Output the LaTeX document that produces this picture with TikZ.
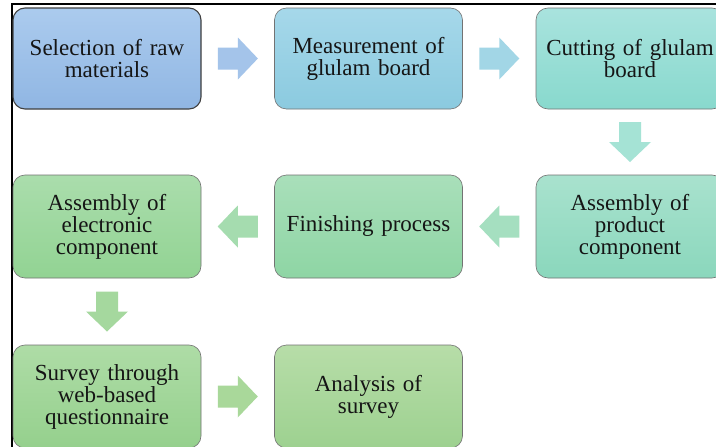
\documentclass[tikz,border=0pt]{standalone}
\usepackage{fontspec}
\usetikzlibrary{calc}
\setmainfont{Liberation Serif}
\definecolor{bA1}{HTML}{ABCBEE}\definecolor{bA2}{HTML}{90B6E3}
\definecolor{bB1}{HTML}{A6D8EA}\definecolor{bB2}{HTML}{8BCADF}
\definecolor{bC1}{HTML}{A9E3DE}\definecolor{bC2}{HTML}{88D9CD}
\definecolor{bF1}{HTML}{A9E2CE}\definecolor{bF2}{HTML}{8AD7BC}
\definecolor{bE1}{HTML}{A9DFBA}\definecolor{bE2}{HTML}{8ED5A4}
\definecolor{bD1}{HTML}{AADDAC}\definecolor{bD2}{HTML}{92D393}
\definecolor{bG1}{HTML}{AEDCA6}\definecolor{bG2}{HTML}{95D08D}
\definecolor{bH1}{HTML}{B7DDA8}\definecolor{bH2}{HTML}{9DD190}
\definecolor{aA}{HTML}{A4C4EA}\definecolor{aB}{HTML}{A2D6E6}
\definecolor{aC}{HTML}{A5E3D5}\definecolor{aD}{HTML}{A5DFC0}
\definecolor{aE}{HTML}{A5DCAF}\definecolor{aF}{HTML}{A5D89E}
\definecolor{aG}{HTML}{A9D89A}
\definecolor{txt}{HTML}{151515}
\tikzset{
  box/.style={draw=black!55, line width=0.6pt, rounded corners=12pt,
    minimum width=188pt, minimum height=101pt, inner sep=0pt,
    text width=180pt, align=center, text=txt,
    font=\fontsize{23}{22}\selectfont},
  sel/.style={draw=black!75, line width=1.1pt},
  blockarrow/.pic={\path[pic actions] (-20,-11)--(0,-11)--(0,-21)--(20,0)--(0,21)--(0,11)--(-20,11)--cycle;},
}
\begin{document}
\begin{tikzpicture}[x=1pt,y=-1pt]
\useasboundingbox (0,0) rectangle (716,447);
\clip (0,0) rectangle (716,447);
\fill[white] (0,0) rectangle (716,447);
\draw[line width=1.6pt] (12,449) -- (12,4) -- (718,4);
% row 1
\node[box, sel, top color=bA1, bottom color=bA2] (n1) at (107,58.5) {Selection of raw\\materials};
\node[box, top color=bB1, bottom color=bB2] (n2) at (368.5,58.5) {Measurement of\\glulam board};
\node[box, top color=bC1, bottom color=bC2] (n3) at (630,58.5) {Cutting of glulam\\board};
% row 2
\node[box, minimum height=103pt, top color=bD1, bottom color=bD2] (n4) at (107,226.5) {Assembly of\\electronic\\component};
\node[box, minimum height=103pt, top color=bE1, bottom color=bE2] (n5) at (368.5,226.5) {Finishing process};
\node[box, minimum height=103pt, top color=bF1, bottom color=bF2] (n6) at (630,226.5) {Assembly of\\product\\component};
% row 3
\node[box, minimum height=103pt, top color=bG1, bottom color=bG2] (n7) at (107,396.5) {Survey through\\web-based\\questionnaire};
\node[box, minimum height=103pt, top color=bH1, bottom color=bH2] (n8) at (368.5,396.5) {Analysis of\\survey};
% arrows
\pic[fill=aA] (a1) at ($(n1.east)!0.5!(n2.west)$) {blockarrow};
\pic[fill=aB] (a2) at ($(n2.east)!0.5!(n3.west)$) {blockarrow};
\pic[fill=aC, rotate=-90] (a3) at ($(n3.south)!0.5!(n6.north)$) {blockarrow};
\pic[fill=aD, rotate=180] (a4) at ($(n6.west)!0.5!(n5.east)$) {blockarrow};
\pic[fill=aE, rotate=180] (a5) at ($(n5.west)!0.5!(n4.east)$) {blockarrow};
\pic[fill=aF, rotate=-90] (a6) at ($(n4.south)!0.5!(n7.north)$) {blockarrow};
\pic[fill=aG] (a7) at ($(n7.east)!0.5!(n8.west)$) {blockarrow};
\end{tikzpicture}
\end{document}
